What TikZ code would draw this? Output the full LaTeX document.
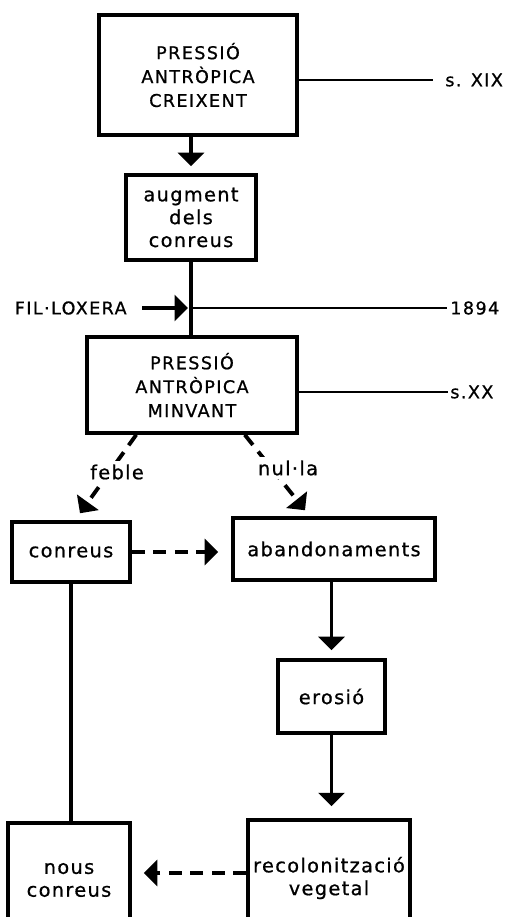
\documentclass[tikz,border=0pt]{standalone}
\usepackage{fontspec}
\setmainfont{DejaVu Sans}
\newfontfamily\capsfont[LetterSpace=8,FakeBold=0.8]{DejaVu Sans}
\newfontfamily\lowfont[LetterSpace=7,FakeBold=0.8]{DejaVu Sans}
\usetikzlibrary{arrows.meta}
\begin{document}
\begin{tikzpicture}
\tikzset{box/.style={
rectangle,draw,black,line width=2pt,
inner sep=0pt,
align=center}}

\tikzset{capsText/.style={font=\capsfont\fontsize{10}{13.6}\selectfont}}
\tikzset{lowText/.style={font=\lowfont\fontsize{11}{13}\selectfont}}

\tikzset{dateLine/.style={line width=0.8pt}}
\tikzset{flowLine/.style={line width=2.2pt}}
\tikzset{flow/.style={flowLine,-{Triangle[width=0.52cm,length=0.27cm]}}}
\tikzset{dashFlow/.style={flow,dash pattern=on 0.26cm off 0.17cm}}

\useasboundingbox (0,0) coordinate (A1) rectangle (10.2,-18.34) coordinate (B2);
\clip (A1) rectangle (B2);

% top chain
\node[box,capsText,minimum width=3.96cm,minimum height=2.4cm,name=creixent]
at (3.96,-1.5) {PRESSIÓ\\ANTRÒPICA\\CREIXENT};
\node[box,lowText,minimum width=2.6cm,minimum height=1.7cm,name=augment]
at (3.82,-4.35) {augment\\dels\\conreus};
\node[box,capsText,minimum width=4.2cm,minimum height=1.92cm,name=minvant]
at (3.84,-7.7) {PRESSIÓ\\ANTRÒPICA\\MINVANT};

% dates
\node[capsText,anchor=west,inner sep=0pt,name=segleXIX] at (8.9,-1.6) {s. XIX};
\node[capsText,anchor=west,inner sep=0pt,name=any1894] at (9.0,-6.16) {1894};
\node[capsText,anchor=west,inner sep=0pt,name=segleXX] at (9.0,-7.84) {s.XX};
\node[capsText,anchor=east,inner sep=0pt,name=filox] at (2.54,-6.16) {FIL·LOXERA};
\coordinate (filoxPt) at (augment.south |- filox);

% lower boxes
\node[box,lowText,minimum width=2.36cm,minimum height=1.2cm,name=conreus]
at (1.42,-11.04) {conreus};
\node[box,lowText,minimum width=4.04cm,minimum height=1.24cm,name=abandon]
at (6.68,-10.98) {abandonaments};
\node[box,lowText,minimum width=2.14cm,minimum height=1.46cm,name=erosio]
at (6.63,-13.93) {erosió};
\node[box,lowText,minimum width=3.24cm,minimum height=2.32cm,name=recolon]
at (6.58,-17.56) {recolonització\\vegetal};
\node[box,lowText,minimum width=2.44cm,minimum height=2.28cm,name=nous]
at (1.38,-17.6) {nous\\conreus};

% connectors
\draw[dateLine,shorten >=0.24cm] ([yshift=-0.1cm]creixent.east) -- (segleXIX.west);
\draw[dateLine,shorten >=0.06cm] (filoxPt) -- (any1894.west);
\draw[dateLine,shorten >=0.04cm] (minvant.east |- segleXX) -- (segleXX.west);

\draw[flow,shorten >=0.14cm] (augment.north |- creixent.south) -- (augment.north);
\draw[flowLine] (augment.south) -- (augment.south |- minvant.north);
\draw[flow,shorten <=0.3cm,shorten >=0.06cm] (filox.east) -- (filoxPt);

\draw[dashFlow] ([xshift=1.02cm]minvant.south west)
-- ([xshift=0.18cm,yshift=0.14cm]conreus.north);
\draw[dashFlow] ([xshift=-1.08cm]minvant.south east)
-- ([xshift=-0.58cm,yshift=0.12cm]abandon.north);
\node[lowText,fill=white,inner sep=2pt,name=feble] at (2.34,-9.44) {feble};
\node[lowText,fill=white,inner sep=2pt,name=nulla] at (5.76,-9.36) {nul·la};

\draw[dashFlow,shorten >=0.26cm] (conreus.east) -- (abandon.west |- conreus.east);
\draw[flow,shorten >=0.16cm] (erosio.north |- abandon.south) -- (erosio.north);
\draw[flow,shorten >=0.24cm] (erosio.south) -- (erosio.south |- recolon.north);
\draw[flowLine] (conreus.south) -- (conreus.south |- nous.north);
\draw[dashFlow,shorten >=0.24cm] ([yshift=0.1cm]recolon.west)
-- ([yshift=0.1cm]recolon.west -| nous.east);

\end{tikzpicture}
\end{document}
